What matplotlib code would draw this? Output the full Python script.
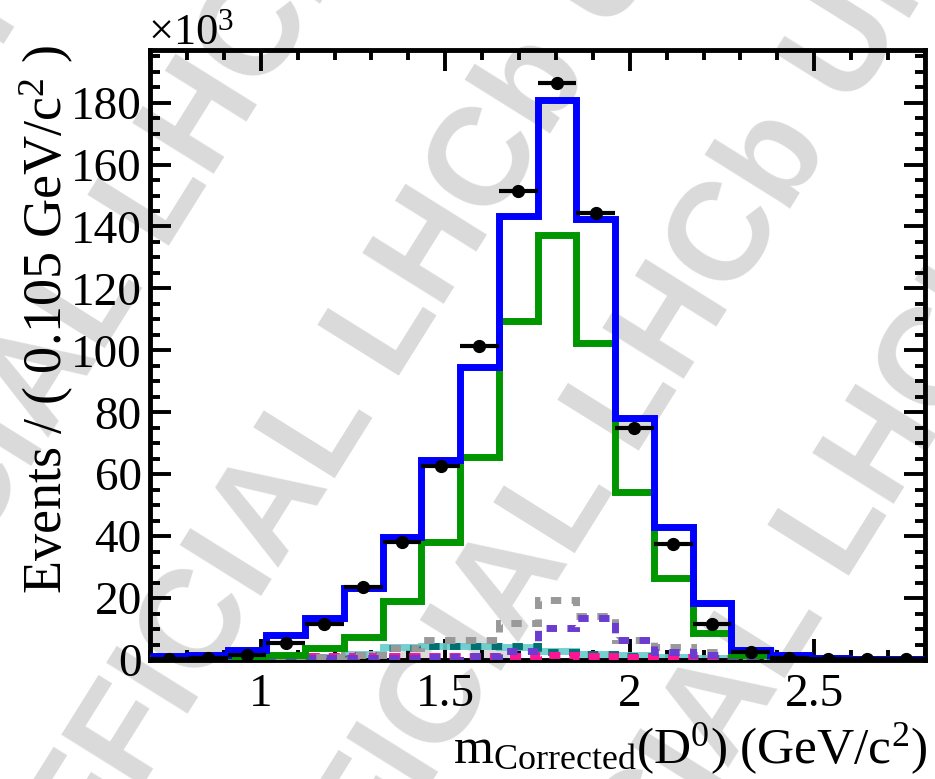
import matplotlib as mpl
import matplotlib.pyplot as plt
import numpy as np
from matplotlib.ticker import MultipleLocator

mpl.rcParams["font.family"] = "Liberation Serif"
mpl.rcParams["mathtext.fontset"] = "custom"
mpl.rcParams["mathtext.rm"] = "Liberation Serif"
mpl.rcParams["mathtext.it"] = "Liberation Serif:italic"

# --- binning: 20 bins of 0.105 GeV/c^2 between 0.7 and 2.8 ---
x_lo = 0.7
bin_width = 0.105
n_bins = 20

# --- values in units of 10^3 events per bin ---
data = [0.3, 0.6, 1.5, 5.5, 11.6, 23.5, 38.0, 62.5, 101.5, 151.5,
        186.5, 144.5, 75.0, 37.5, 11.5, 2.5, 0.8, 0.3, 0.2, 0.2]
total_fit = [1.3, 1.6, 3.2, 8.0, 13.5, 23.2, 39.6, 64.7, 94.5, 143.5,
             181.0, 142.3, 78.2, 42.8, 18.4, 3.2, 1.5, 0.5, 0.3, 0.2]
signal = [0.2, 0.3, 0.5, 1.5, 3.9, 7.4, 19.0, 38.0, 65.7, 109.5,
          137.2, 102.4, 54.1, 26.4, 8.7, 1.6, 0.5, 0.2, 0.1, 0.1]
bkg_grey = [0.5, 0.5, 0.6, 0.8, 1.0, 1.5, 4.0, 6.4, 6.4, 11.9,
            19.3, 14.2, 6.4, 4.2, 2.6, 0.5, 0.3, 0.2, 0.1, 0.1]
bkg_purple = [0.2, 0.2, 0.3, 0.4, 0.5, 0.6, 0.8, 1.0, 1.2, 3.0,
              10.3, 13.5, 6.4, 2.6, 1.6, 0.5, 0.2, 0.1, 0.1, 0.1]
bkg_cyan = [0.4, 0.5, 0.6, 0.8, 1.0, 1.8, 4.3, 4.5, 4.5, 4.3,
            3.0, 2.0, 1.5, 1.0, 0.8, 0.3, 0.2, 0.1, 0.1, 0.1]
bkg_teal = [0.3, 0.4, 0.5, 0.7, 0.9, 1.6, 4.0, 4.6, 4.6, 4.4,
            2.6, 1.8, 1.2, 0.9, 0.6, 0.3, 0.2, 0.1, 0.1, 0.1]
bkg_pink = [0.4, 0.5, 0.7, 1.1, 1.2, 1.3, 1.3, 1.3, 1.4, 1.4,
            1.5, 1.3, 1.1, 0.9, 0.7, 0.3, 0.2, 0.1, 0.1, 0.1]
bkg_darkred = [0.1] * 20

xticks_major = [1.0, 1.5, 2.0, 2.5]
xtick_labels = ["1", "1.5", "2", "2.5"]
yticks_major = [0, 20, 40, 60, 80, 100, 120, 140, 160, 180]

edges = x_lo + bin_width * np.arange(n_bins + 1)
centers = 0.5 * (edges[:-1] + edges[1:])
data = np.array(data)

W, H = 935, 779
fig = plt.figure(figsize=(W / 100, H / 100), dpi=100)

# watermark rows (behind everything); points mark the end of "LHCb"
wm_rows = [(330, -80), (560, 50), (800, 125), (1010, 250), (120, -210)]
ang = np.deg2rad(58)
d = np.array([np.cos(ang), -np.sin(ang)])
for px, py in wm_rows:
    for ha, shift in (("right", 0.0), ("left", 40.0)):
        qx, qy = px + shift * d[0], py + shift * d[1]
        fig.text(qx / W, 1 - qy / H, "UNOFFICIAL LHCb",
                 rotation=58, rotation_mode="anchor", ha=ha, va="center",
                 fontsize=100, fontweight="bold", family="Liberation Sans",
                 color="#dadada", zorder=0)

ax = fig.add_axes([150 / W, 1 - 660 / H, 775 / W, 610 / H], zorder=1)
ax.patch.set_alpha(0)

lw = 5
ax.stairs(bkg_darkred, edges, baseline=None, color="#990033", lw=1.5, zorder=2)
ax.stairs(bkg_cyan, edges, baseline=None, color="#66cccc", lw=lw, alpha=0.9, zorder=2)
ax.stairs(bkg_teal, edges, baseline=None, color="#007070", lw=lw,
          linestyle=(0, (1.5, 1.5)), zorder=3)
ax.stairs(bkg_pink, edges, baseline=None, color="#ff1493", lw=lw,
          linestyle=(0, (1.6, 1.3)), zorder=3)
ax.stairs(bkg_grey, edges, baseline=None, color="#999999", lw=lw,
          linestyle=(0, (1.5, 1.5)), zorder=3)
ax.stairs(bkg_purple, edges, baseline=None, color="#6a3cd0", lw=lw,
          linestyle=(1.5, (1.5, 1.5)), zorder=3)
ax.stairs(signal, edges, baseline=None, color="#009600", lw=lw, zorder=4)
ax.stairs(total_fit, edges, baseline=None, color="#0000ff", lw=lw, zorder=5)

ax.errorbar(centers, data, xerr=bin_width / 2, yerr=np.sqrt(data * 1000) / 1000,
            fmt="o", color="k", ms=8.5, elinewidth=3, capsize=0, zorder=6)

ax.set_xlim(edges[0], edges[-1])
ax.set_ylim(0, 197)
ax.set_xticks(xticks_major)
ax.set_xticklabels(xtick_labels)
ax.set_yticks(yticks_major)
ax.xaxis.set_minor_locator(MultipleLocator(0.1))
ax.yaxis.set_minor_locator(MultipleLocator(5))
ax.tick_params(which="both", direction="in", top=True, right=True, width=2.8)
ax.tick_params(which="major", length=15, labelsize=34)
ax.tick_params(which="minor", length=7.5)
ax.tick_params(axis="x", pad=10)
ax.tick_params(axis="y", pad=6)
for s in ax.spines.values():
    s.set_linewidth(3.5)

fig.text(148 / W, 1 - 44 / H, r"$\mathrm{\times 10^{3}}$", fontsize=32,
         ha="left", va="baseline")
fig.text(47 / W, 1 - 45 / H, r"Events / ( 0.105 GeV/c$^{2}$ )", fontsize=39,
         rotation=90, ha="center", va="top")
fig.text(927 / W, 2 / H, r"$\mathrm{m_{Corrected}(D^{0})\ (GeV/c^{2})}$",
         fontsize=37, ha="right", va="bottom")

fig.savefig("out.png", dpi=100, facecolor="white")
plt.close(fig)
